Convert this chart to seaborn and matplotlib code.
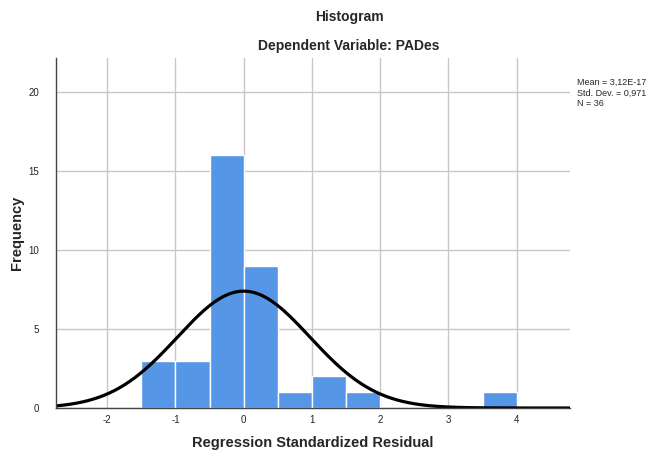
import numpy as np
import pandas as pd
import matplotlib
matplotlib.use('Agg')
import matplotlib.pyplot as plt
import seaborn as sns

# Datos del histograma (residuos estandarizados)
bin_edges = [-1.5, -1.0, -0.5, 0.0, 0.5, 1.0, 1.5, 2.0, 2.5, 3.0, 3.5, 4.0]
counts = [3, 3, 16, 9, 1, 2, 1, 0, 0, 0, 1]
mean_val = 3.12e-17
std_val = 0.971
n_val = 36
x_ticks = [-2, -1, 0, 1, 2, 3, 4]
y_ticks = [0, 5, 10, 15, 20]

centers = [(a + b) / 2 for a, b in zip(bin_edges[:-1], bin_edges[1:])]
df = pd.DataFrame({'resid': centers, 'freq': counts})

sns.set_style("white")
plt.rcParams['font.family'] = ['Liberation Sans', 'DejaVu Sans']

fig = plt.figure(figsize=(6.49, 4.57), dpi=100)
ax = fig.add_axes([56 / 649, 1 - 408 / 457, (570 - 56) / 649, (408 - 58) / 457])

# Rejilla
ax.set_axisbelow(True)
ax.grid(True, color='#c8c8c8', linewidth=1)

sns.histplot(data=df, x='resid', weights='freq', bins=bin_edges, ax=ax,
             color='#5596e6', alpha=1, edgecolor='white', linewidth=1)

# Curva normal
xs = np.linspace(-2.75, 4.78, 400)
ys = n_val * 0.5 * np.exp(-0.5 * ((xs - mean_val) / std_val) ** 2) / (std_val * np.sqrt(2 * np.pi))
sns.lineplot(x=xs, y=ys, ax=ax, color='black', linewidth=2.3)

ax.set_xlim(-2.75, 4.78)
ax.set_ylim(0, 22.15)
ax.set_xticks(x_ticks)
ax.set_xticklabels([str(t) for t in x_ticks])
ax.set_yticks(y_ticks)
ax.tick_params(length=0, labelsize=7, colors='#222222')
ax.tick_params(axis='x', pad=5)
ax.tick_params(axis='y', pad=12)

for s in ['top', 'right']:
    ax.spines[s].set_visible(False)
for s in ['left', 'bottom']:
    ax.spines[s].set_color('#444444')
    ax.spines[s].set_linewidth(1)

ax.set_xlabel('Regression Standardized Residual', fontsize=10.5, fontweight='bold', labelpad=8)
ax.set_ylabel('Frequency', fontsize=10.5, fontweight='bold', labelpad=3)

fig.text(349 / 649, 1 - 17 / 457, 'Histogram', ha='center', va='center', fontsize=10, fontweight='bold')
fig.text(349 / 649, 1 - 46 / 457, 'Dependent Variable: PADes', ha='center', va='center', fontsize=10, fontweight='bold')

fig.text(577 / 649, 1 - 82 / 457, 'Mean = 3,12E-17', fontsize=6.5, va='center')
fig.text(577 / 649, 1 - 93 / 457, 'Std. Dev. = 0,971', fontsize=6.5, va='center')
fig.text(577 / 649, 1 - 104 / 457, 'N = 36', fontsize=6.5, va='center')

fig.savefig('out.png', dpi=100)
